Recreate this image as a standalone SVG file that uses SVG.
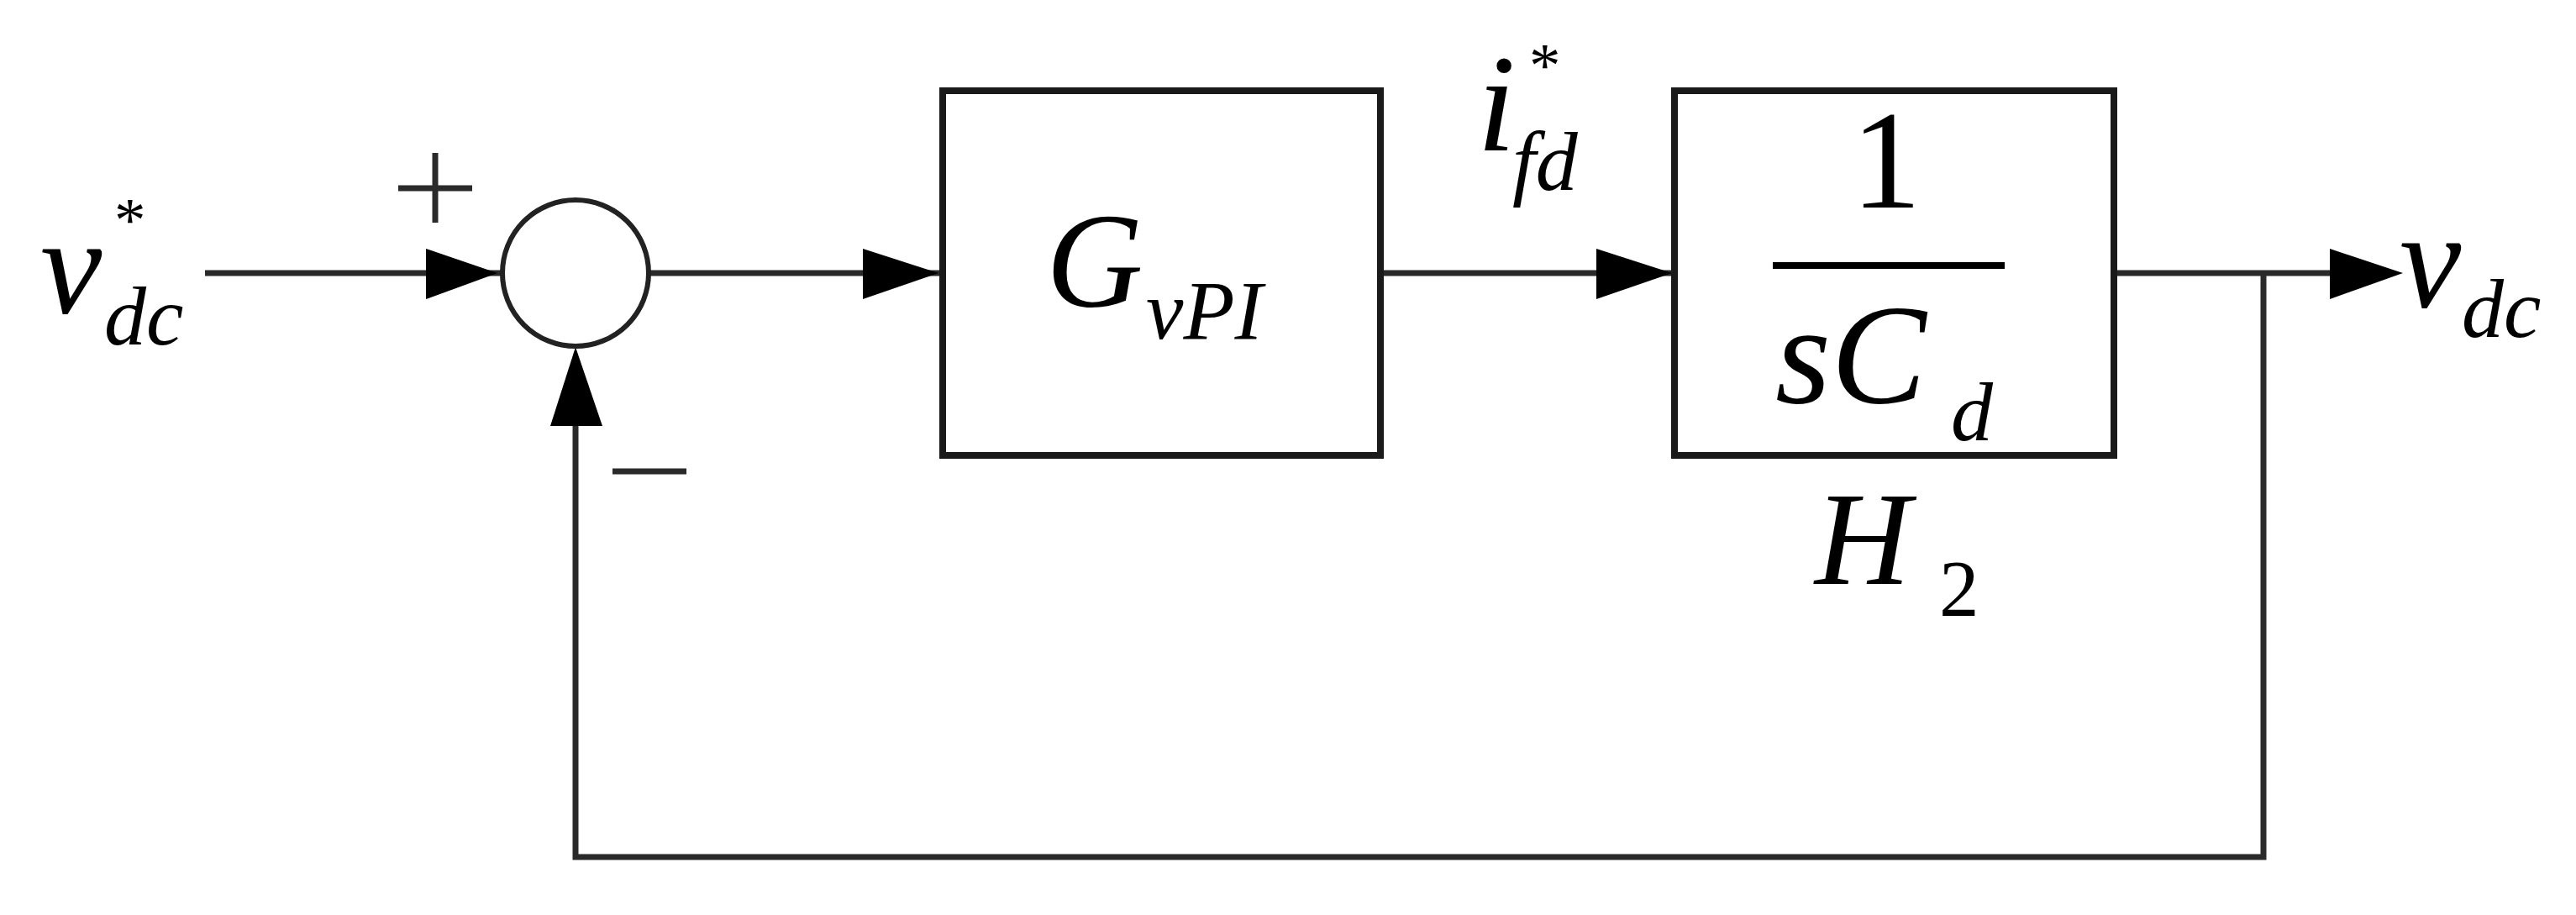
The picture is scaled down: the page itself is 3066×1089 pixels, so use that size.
<svg xmlns="http://www.w3.org/2000/svg" width="3066" height="1089" viewBox="0 0 3066 1089">
<style>
.ln{stroke:#2a2a2a;stroke-width:7;fill:none}
.bx{stroke:#1a1a1a;stroke-width:8;fill:#fff}
.ah{fill:#000}
.t{font-family:"Liberation Serif",serif;font-style:italic;fill:#000}
.n{font-family:"Liberation Serif",serif;fill:#000}
</style>
<rect width="3066" height="1089" fill="#fff"/>
<g id="connectors">
<line class="ln" x1="244" y1="325" x2="597" y2="325"/>
<polygon class="ah" points="507,296 592,325 507,356"/>
<line class="ln" x1="773" y1="325" x2="1118" y2="325"/>
<polygon class="ah" points="1027,296 1117,325 1027,356"/>
<line class="ln" x1="1645" y1="325" x2="1990" y2="325"/>
<polygon class="ah" points="1900,296 1990,325 1900,356"/>
<line class="ln" x1="2516" y1="325" x2="2800" y2="325"/>
<polygon class="ah" points="2773,296 2860,325 2773,356"/>
<polyline class="ln" points="2694,325 2694,1020 685,1020 685,480"/>
<polygon class="ah" points="655,507 685,413 717,507"/>
</g>
<g id="sum">
<circle cx="685" cy="325" r="87" fill="#fff" stroke="#222" stroke-width="6"/>
<line class="ln" x1="474" y1="224" x2="562" y2="224"/>
<line class="ln" x1="518" y1="182" x2="518" y2="265"/>
<line class="ln" x1="729" y1="561" x2="817" y2="561"/>
</g>
<g id="input">
<text class="t" x="48" y="372" font-size="165">v</text>
<text class="t" x="124" y="410" font-size="100">dc</text>
<text class="n" x="136" y="287" font-size="75">*</text>
</g>
<g id="gvpi">
<rect class="bx" x="1122" y="108" width="521" height="434"/>
<text class="t" x="1245" y="365" font-size="160">G</text>
<text class="t" x="1364" y="403" font-size="100">vPI</text>
</g>
<g id="ifd">
<text class="t" x="1758" y="179" font-size="165">i</text>
<text class="t" x="1800" y="226" font-size="100">fd</text>
<text class="n" x="1820" y="103" font-size="75">*</text>
</g>
<g id="h2">
<rect class="bx" x="1993" y="108" width="523" height="434"/>
<text class="n" x="2245" y="247" font-size="167" text-anchor="middle">1</text>
<line stroke="#000" stroke-width="8" x1="2110" y1="316" x2="2386" y2="316"/>
<text class="t" x="2113" y="479" font-size="170">sC</text>
<text class="t" x="2322" y="524" font-size="100">d</text>
<text class="t" x="2160" y="695" font-size="158">H</text>
<text class="n" x="2308" y="733" font-size="95">2</text>
</g>
<g id="output">
<text class="t" x="2856" y="365" font-size="165">v</text>
<text class="t" x="2930" y="401" font-size="100">dc</text>
</g>
</svg>
